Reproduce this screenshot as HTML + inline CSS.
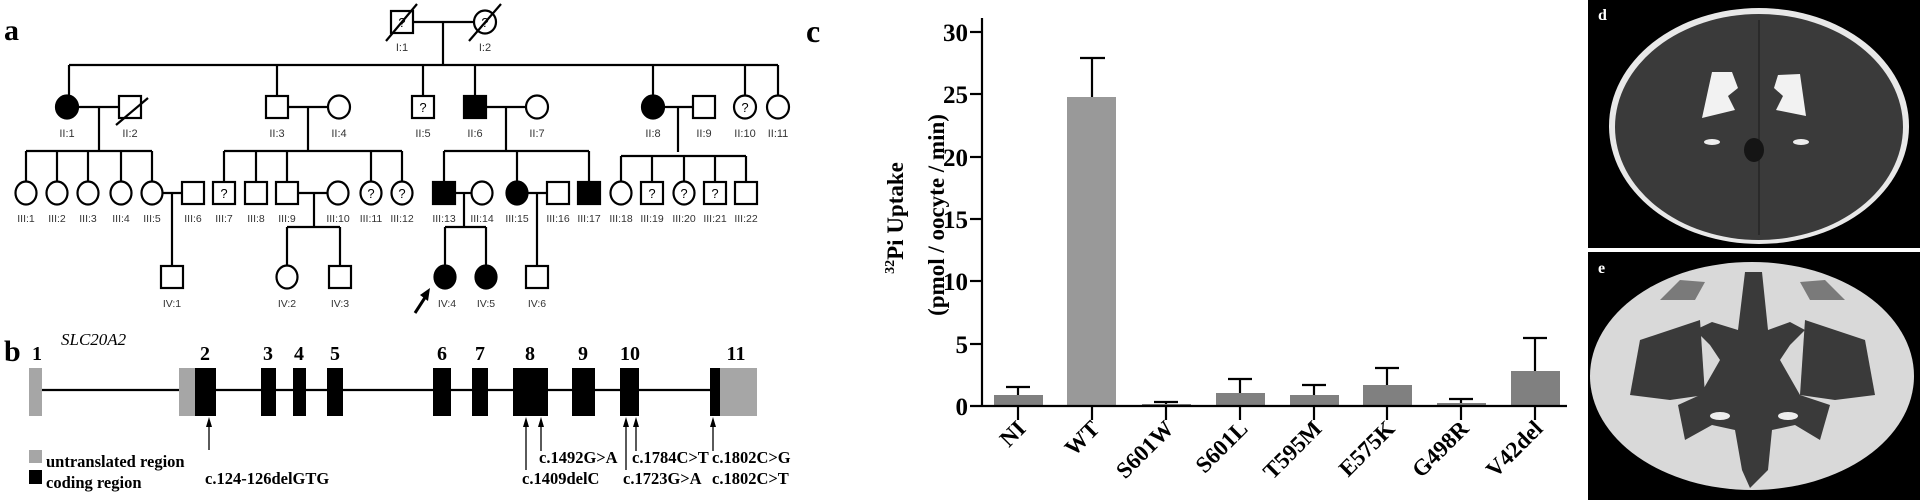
<!DOCTYPE html>
<html><head><meta charset="utf-8"><style>html,body{margin:0;padding:0;background:#fff;}svg{display:block}</style></head>
<body>
<svg width="1920" height="500" viewBox="0 0 1920 500" xmlns="http://www.w3.org/2000/svg">
<rect width="1920" height="500" fill="#fff"/>
<!-- ===== Panel a: pedigree ===== -->
<text x="4" y="40" font-family="Liberation Serif, serif" font-weight="bold" font-size="30">a</text>
<g stroke="#000" stroke-width="2.2" fill="none">
  <line x1="413" y1="22" x2="474" y2="22"/><line x1="443" y1="22" x2="443" y2="65"/>
  <line x1="69" y1="65" x2="778" y2="65"/>
  <line x1="69" y1="65" x2="69" y2="96"/><line x1="277" y1="65" x2="277" y2="96"/><line x1="423" y1="65" x2="423" y2="96"/>
  <line x1="475" y1="65" x2="475" y2="96"/><line x1="653" y1="65" x2="653" y2="96"/><line x1="745" y1="65" x2="745" y2="96"/><line x1="778" y1="65" x2="778" y2="96"/>
  <line x1="78" y1="107" x2="120" y2="107"/><line x1="99" y1="107" x2="99" y2="151"/>
  <line x1="288" y1="107" x2="328" y2="107"/><line x1="308" y1="107" x2="308" y2="151"/>
  <line x1="486" y1="107" x2="526" y2="107"/><line x1="506" y1="107" x2="506" y2="151"/>
  <line x1="664" y1="107" x2="693" y2="107"/><line x1="678" y1="107" x2="678" y2="152"/>
  <line x1="26" y1="151" x2="152" y2="151"/>
  <line x1="26" y1="151" x2="26" y2="182"/><line x1="57" y1="151" x2="57" y2="182"/><line x1="88" y1="151" x2="88" y2="182"/><line x1="121" y1="151" x2="121" y2="182"/><line x1="152" y1="151" x2="152" y2="182"/>
  <line x1="224" y1="151" x2="402" y2="151"/>
  <line x1="224" y1="151" x2="224" y2="182"/><line x1="256" y1="151" x2="256" y2="182"/><line x1="287" y1="151" x2="287" y2="182"/><line x1="371" y1="151" x2="371" y2="182"/><line x1="402" y1="151" x2="402" y2="182"/>
  <line x1="444" y1="151" x2="589" y2="151"/>
  <line x1="444" y1="151" x2="444" y2="182"/><line x1="517" y1="151" x2="517" y2="182"/><line x1="589" y1="151" x2="589" y2="182"/>
  <line x1="621" y1="156" x2="746" y2="156"/>
  <line x1="621" y1="156" x2="621" y2="182"/><line x1="652" y1="156" x2="652" y2="182"/><line x1="684" y1="156" x2="684" y2="182"/><line x1="715" y1="156" x2="715" y2="182"/><line x1="746" y1="156" x2="746" y2="182"/>
  <line x1="163" y1="193" x2="182" y2="193"/><line x1="172" y1="193" x2="172" y2="266"/>
  <line x1="298" y1="193" x2="327" y2="193"/><line x1="314" y1="193" x2="314" y2="227"/>
  <line x1="455" y1="193" x2="471" y2="193"/><line x1="464" y1="193" x2="464" y2="227"/>
  <line x1="528" y1="193" x2="547" y2="193"/><line x1="537" y1="193" x2="537" y2="266"/>
  <line x1="287" y1="227" x2="340" y2="227"/><line x1="287" y1="227" x2="287" y2="266"/><line x1="340" y1="227" x2="340" y2="266"/>
  <line x1="445" y1="227" x2="486" y2="227"/><line x1="445" y1="227" x2="445" y2="266"/><line x1="486" y1="227" x2="486" y2="266"/>
</g>
<g stroke="#000" stroke-width="2.2" fill="#fff">
  <rect x="391" y="11" width="22" height="22"/><ellipse cx="485" cy="22" rx="11" ry="11.5"/>
  <ellipse cx="67" cy="107" rx="11" ry="11.5" fill="#000"/><rect x="119" y="96" width="22" height="22"/>
  <rect x="266" y="96" width="22" height="22"/><ellipse cx="339" cy="107" rx="11" ry="11.5"/>
  <rect x="412" y="96" width="22" height="22"/>
  <rect x="464" y="96" width="22" height="22" fill="#000"/><ellipse cx="537" cy="107" rx="11" ry="11.5"/>
  <ellipse cx="653" cy="107" rx="11" ry="11.5" fill="#000"/><rect x="693" y="96" width="22" height="22"/>
  <ellipse cx="745" cy="107" rx="11" ry="11.5"/><ellipse cx="778" cy="107" rx="11" ry="11.5"/>
  <ellipse cx="26" cy="193" rx="10.5" ry="11.5"/><ellipse cx="57" cy="193" rx="10.5" ry="11.5"/><ellipse cx="88" cy="193" rx="10.5" ry="11.5"/><ellipse cx="121" cy="193" rx="10.5" ry="11.5"/><ellipse cx="152" cy="193" rx="10.5" ry="11.5"/>
  <rect x="182" y="182" width="22" height="22"/>
  <rect x="213" y="182" width="22" height="22"/><rect x="245" y="182" width="22" height="22"/><rect x="276" y="182" width="22" height="22"/>
  <ellipse cx="338" cy="193" rx="10.5" ry="11.5"/><ellipse cx="371" cy="193" rx="10.5" ry="11.5"/><ellipse cx="402" cy="193" rx="10.5" ry="11.5"/>
  <rect x="433" y="182" width="22" height="22" fill="#000"/><ellipse cx="482" cy="193" rx="10.5" ry="11.5"/>
  <ellipse cx="517" cy="193" rx="10.5" ry="11.5" fill="#000"/><rect x="547" y="182" width="22" height="22"/>
  <rect x="578" y="182" width="22" height="22" fill="#000"/>
  <ellipse cx="621" cy="193" rx="10.5" ry="11.5"/><rect x="641" y="182" width="22" height="22"/><ellipse cx="684" cy="193" rx="10.5" ry="11.5"/><rect x="704" y="182" width="22" height="22"/><rect x="735" y="182" width="22" height="22"/>
  <rect x="161" y="266" width="22" height="22"/>
  <ellipse cx="287" cy="277" rx="10.5" ry="11.5"/><rect x="329" y="266" width="22" height="22"/>
  <ellipse cx="445" cy="277" rx="10.5" ry="11.5" fill="#000"/><ellipse cx="486" cy="277" rx="10.5" ry="11.5" fill="#000"/>
  <rect x="526" y="266" width="22" height="22"/>
</g>
<g stroke="#000" stroke-width="2.2">
  <line x1="386" y1="41" x2="417" y2="4"/><line x1="469" y1="41" x2="501" y2="4"/><line x1="116" y1="125" x2="148" y2="98"/>
  <line x1="415" y1="313" x2="426" y2="296" stroke-width="3"/>
</g>
<polygon points="430,288 420,295 428,301" fill="#000"/>
<g font-family="Liberation Sans, sans-serif" font-size="13" fill="#000" text-anchor="middle">
  <text x="402" y="27">?</text><text x="485" y="27">?</text><text x="423" y="112">?</text><text x="745" y="112">?</text>
  <text x="224" y="198">?</text><text x="371" y="198">?</text><text x="402" y="198">?</text><text x="652" y="198">?</text><text x="684" y="198">?</text><text x="715" y="198">?</text>
</g>
<g font-family="Liberation Sans, sans-serif" font-size="11" fill="#333" text-anchor="middle">
  <text x="402" y="51">I:1</text><text x="485" y="51">I:2</text>
  <text x="67" y="137">II:1</text><text x="130" y="137">II:2</text><text x="277" y="137">II:3</text><text x="339" y="137">II:4</text><text x="423" y="137">II:5</text><text x="475" y="137">II:6</text><text x="537" y="137">II:7</text><text x="653" y="137">II:8</text><text x="704" y="137">II:9</text><text x="745" y="137">II:10</text><text x="778" y="137">II:11</text>
</g>
<g font-family="Liberation Sans, sans-serif" font-size="10.5" fill="#333" text-anchor="middle">
  <text x="26" y="222">III:1</text><text x="57" y="222">III:2</text><text x="88" y="222">III:3</text><text x="121" y="222">III:4</text><text x="152" y="222">III:5</text><text x="193" y="222">III:6</text><text x="224" y="222">III:7</text><text x="256" y="222">III:8</text><text x="287" y="222">III:9</text><text x="338" y="222">III:10</text><text x="371" y="222">III:11</text><text x="402" y="222">III:12</text><text x="444" y="222">III:13</text><text x="482" y="222">III:14</text><text x="517" y="222">III:15</text><text x="558" y="222">III:16</text><text x="589" y="222">III:17</text><text x="621" y="222">III:18</text><text x="652" y="222">III:19</text><text x="684" y="222">III:20</text><text x="715" y="222">III:21</text><text x="746" y="222">III:22</text>
  <text x="172" y="307">IV:1</text><text x="287" y="307">IV:2</text><text x="340" y="307">IV:3</text><text x="447" y="307">IV:4</text><text x="486" y="307">IV:5</text><text x="537" y="307">IV:6</text>
</g>
<!-- ===== Panel b: gene ===== -->
<text x="4" y="361" font-family="Liberation Serif, serif" font-weight="bold" font-size="30">b</text>
<text x="61" y="345" font-family="Liberation Serif, serif" font-style="italic" font-size="17">SLC20A2</text>
<line x1="42" y1="390" x2="712" y2="390" stroke="#000" stroke-width="2.2"/>
<g fill="#a6a6a6"><rect x="29" y="368" width="13" height="48"/><rect x="179" y="368" width="16" height="48"/><rect x="720" y="368" width="37" height="48"/></g>
<g fill="#000">
  <rect x="195" y="368" width="21" height="48"/><rect x="261" y="368" width="15" height="48"/><rect x="293" y="368" width="13" height="48"/><rect x="327" y="368" width="16" height="48"/>
  <rect x="433" y="368" width="18" height="48"/><rect x="472" y="368" width="16" height="48"/><rect x="513" y="368" width="35" height="48"/><rect x="572" y="368" width="23" height="48"/><rect x="620" y="368" width="19" height="48"/><rect x="710" y="368" width="10" height="48"/>
</g>
<g font-family="Liberation Serif, serif" font-weight="bold" font-size="20" text-anchor="middle">
  <text x="37" y="360">1</text><text x="205" y="360">2</text><text x="268" y="360">3</text><text x="299" y="360">4</text><text x="335" y="360">5</text><text x="442" y="360">6</text><text x="480" y="360">7</text><text x="530" y="360">8</text><text x="583" y="360">9</text><text x="630" y="360">10</text><text x="736" y="360">11</text>
</g>
<g stroke="#000" stroke-width="1.3">
  <line x1="209" y1="450" x2="209" y2="420"/><line x1="526" y1="470" x2="526" y2="420"/><line x1="541" y1="451" x2="541" y2="420"/>
  <line x1="626" y1="470" x2="626" y2="420"/><line x1="636" y1="451" x2="636" y2="420"/><line x1="713" y1="451" x2="713" y2="420"/>
</g>
<g fill="#000">
  <polygon points="209,417 206,427 212,427"/><polygon points="526,417 523,427 529,427"/><polygon points="541,417 538,427 544,427"/>
  <polygon points="626,417 623,427 629,427"/><polygon points="636,417 633,427 639,427"/><polygon points="713,417 710,427 716,427"/>
</g>
<g font-family="Liberation Serif, serif" font-weight="bold" font-size="16.5">
  <text x="205" y="484">c.124-126delGTG</text>
  <text x="539" y="463">c.1492G&gt;A</text><text x="522" y="484">c.1409delC</text>
  <text x="632" y="463">c.1784C&gt;T</text><text x="623" y="484">c.1723G&gt;A</text>
  <text x="712" y="463">c.1802C&gt;G</text><text x="712" y="484">c.1802C&gt;T</text>
  <text x="46" y="467">untranslated region</text><text x="46" y="488">coding region</text>
</g>
<rect x="29" y="450" width="13" height="13" fill="#a6a6a6"/><rect x="29" y="470" width="13" height="14" fill="#000"/>
<!-- ===== Panel c: chart ===== -->
<text x="806" y="42" font-family="Liberation Serif, serif" font-weight="bold" font-size="32">c</text>
<g fill="#999"><rect x="1067" y="97" width="49" height="309"/></g>
<g fill="#808080">
  <rect x="994" y="395" width="49" height="11"/><rect x="1142" y="404" width="49" height="2"/><rect x="1216" y="393" width="49" height="13"/>
  <rect x="1290" y="395" width="49" height="11"/><rect x="1363" y="385" width="49" height="21"/><rect x="1437" y="403" width="49" height="3"/><rect x="1511" y="371" width="49" height="35"/>
</g>
<g stroke="#000" stroke-width="2.2">
  <line x1="1018" y1="395" x2="1018" y2="387"/><line x1="1006" y1="387" x2="1030" y2="387"/>
  <line x1="1092" y1="97" x2="1092" y2="58"/><line x1="1080" y1="58" x2="1105" y2="58"/>
  <line x1="1166" y1="404" x2="1166" y2="402"/><line x1="1154" y1="402" x2="1178" y2="402"/>
  <line x1="1240" y1="393" x2="1240" y2="379"/><line x1="1228" y1="379" x2="1252" y2="379"/>
  <line x1="1314" y1="395" x2="1314" y2="385"/><line x1="1302" y1="385" x2="1326" y2="385"/>
  <line x1="1387" y1="385" x2="1387" y2="368"/><line x1="1375" y1="368" x2="1399" y2="368"/>
  <line x1="1461" y1="403" x2="1461" y2="399"/><line x1="1449" y1="399" x2="1473" y2="399"/>
  <line x1="1535" y1="371" x2="1535" y2="338"/><line x1="1523" y1="338" x2="1547" y2="338"/>
  <line x1="982" y1="18" x2="982" y2="407"/><line x1="970" y1="406" x2="1567" y2="406"/>
  <line x1="970" y1="32" x2="982" y2="32"/><line x1="970" y1="94" x2="982" y2="94"/><line x1="970" y1="157" x2="982" y2="157"/><line x1="970" y1="219" x2="982" y2="219"/><line x1="970" y1="281" x2="982" y2="281"/><line x1="970" y1="344" x2="982" y2="344"/>
  <line x1="1018" y1="406" x2="1018" y2="420"/><line x1="1092" y1="406" x2="1092" y2="420"/><line x1="1166" y1="406" x2="1166" y2="420"/><line x1="1240" y1="406" x2="1240" y2="420"/><line x1="1314" y1="406" x2="1314" y2="420"/><line x1="1387" y1="406" x2="1387" y2="420"/><line x1="1461" y1="406" x2="1461" y2="420"/><line x1="1535" y1="406" x2="1535" y2="420"/>
</g>
<g font-family="Liberation Serif, serif" font-weight="bold" font-size="25" text-anchor="end">
  <text x="968" y="41">30</text><text x="968" y="103">25</text><text x="968" y="166">20</text><text x="968" y="228">15</text><text x="968" y="290">10</text><text x="968" y="353">5</text><text x="968" y="415">0</text>
</g>
<g font-family="Liberation Serif, serif" font-weight="bold" font-size="23" text-anchor="end">
  <text transform="translate(1027,430) rotate(-45)">NI</text>
  <text transform="translate(1101,430) rotate(-45)">WT</text>
  <text transform="translate(1175,430) rotate(-45)">S601W</text>
  <text transform="translate(1249,430) rotate(-45)">S601L</text>
  <text transform="translate(1323,430) rotate(-45)">T595M</text>
  <text transform="translate(1396,430) rotate(-45)">E575K</text>
  <text transform="translate(1470,430) rotate(-45)">G498R</text>
  <text transform="translate(1544,430) rotate(-45)">V42del</text>
</g>
<g font-family="Liberation Serif, serif" font-weight="bold" font-size="23" text-anchor="middle">
  <text transform="translate(903,218) rotate(-90)"><tspan font-size="14" dy="-9">32</tspan><tspan dy="9">Pi Uptake</tspan></text>
  <text transform="translate(944,215) rotate(-90)">(pmol / oocyte / min)</text>
</g>
<!-- ===== Panels d, e: CT ===== -->
<rect x="1588" y="0" width="332" height="248" fill="#000"/>
<ellipse cx="1759" cy="126" rx="150" ry="118" fill="#e8e8e8"/>
<ellipse cx="1759" cy="127" rx="144" ry="113" fill="#3a3a3a"/>
<line x1="1759" y1="20" x2="1759" y2="235" stroke="#2a2a2a" stroke-width="2"/>
<path d="M1712,72 L1732,72 L1738,88 L1728,96 L1735,110 L1702,118 Z" fill="#f2f2f2"/>
<path d="M1778,75 L1800,74 L1806,116 L1776,110 L1783,96 L1774,88 Z" fill="#f2f2f2"/>
<ellipse cx="1712" cy="142" rx="8" ry="3" fill="#eee"/><ellipse cx="1801" cy="142" rx="8" ry="3" fill="#eee"/>
<ellipse cx="1754" cy="150" rx="10" ry="12" fill="#151515"/>
<text x="1598" y="20" font-family="Liberation Serif, serif" font-weight="bold" font-size="16" fill="#fff">d</text>
<rect x="1588" y="252" width="332" height="248" fill="#000"/>
<ellipse cx="1752" cy="376" rx="162" ry="114" fill="#d9d9d9"/>
<g fill="#3a3a3a">
  <path d="M1745,272 L1762,272 L1768,330 L1790,322 L1805,330 L1790,345 L1780,360 L1800,395 L1830,405 L1820,440 L1795,425 L1772,430 L1768,470 L1750,488 L1742,470 L1735,430 L1712,425 L1685,440 L1678,405 L1700,395 L1720,360 L1710,345 L1695,330 L1712,322 L1738,330 Z"/>
  <path d="M1640,340 L1700,320 L1705,395 L1670,400 L1630,395 Z"/>
  <path d="M1805,320 L1865,340 L1875,395 L1835,400 L1800,395 Z"/>
  <path d="M1660,300 L1680,280 L1705,282 L1695,300 Z" opacity="0.6"/>
  <path d="M1800,282 L1825,280 L1845,300 L1810,300 Z" opacity="0.6"/>
</g>
<ellipse cx="1720" cy="416" rx="10" ry="4" fill="#eee"/><ellipse cx="1788" cy="416" rx="10" ry="4" fill="#eee"/>
<text x="1598" y="273" font-family="Liberation Serif, serif" font-weight="bold" font-size="16" fill="#fff">e</text>
</svg>
</body></html>
